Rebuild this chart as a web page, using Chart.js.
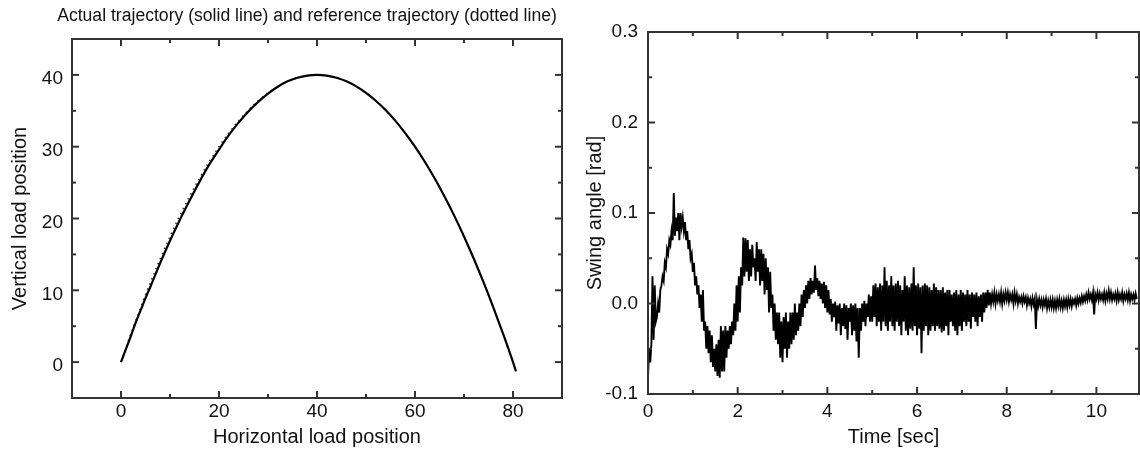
<!DOCTYPE html>
<html><head><meta charset="utf-8">
<script src="https://cdn.jsdelivr.net/npm/chart.js@4.4.1/dist/chart.umd.min.js"></script>
<style>
html,body{margin:0;padding:0;background:#fff;}
#wrap{position:relative;width:1140px;height:453px;overflow:hidden;background:#fff;}
canvas{position:absolute;top:0;}
#c1{left:0;} #c2{left:570px;}
</style></head><body>
<div id="wrap"><canvas id="c1" width="570" height="453"></canvas><canvas id="c2" width="570" height="453"></canvas></div>
<script>
// ---------- data ----------
const trajectoryTitle = "Actual trajectory (solid line) and reference trajectory (dotted line)";
const horizontalPosition = [0,1,2,3,4,5,6,8,10,12,14,16,18,20,22,24,26,28,30,32,34,36,38,40,42,44,46,48,50,52,54,56,58,60,62,64,66,68,70,72,74,76,78,80,80.6];
const actualVertical = [0,1.8,3.6,5.5,7.2,8.9,10.5,13.8,16.9,19.8,22.5,25.1,27.5,29.6,31.6,33.35,34.9,36.25,37.4,38.35,39.1,39.6,39.9,40.0,39.9,39.6,39.1,38.4,37.5,36.4,35.1,33.6,31.9,30.0,27.9,25.6,23.1,20.4,17.5,14.4,11.1,7.6,3.9,0.0,-1.3];
const referenceVertical = [0,2.0,3.9,5.8,7.6,9.4,11.1,14.4,17.5,20.4,23.1,25.6,27.9,30.0,31.9,33.6,35.1,36.4,37.5,38.4,39.1,39.6,39.9,40.0,39.9,39.6,39.1,38.4,37.5,36.4,35.1,33.6,31.9,30.0,27.9,25.6,23.1,20.4,17.5,14.4,11.1,7.6,3.9,0.0,-1.2];
const leftXTicks = [0,20,40,60,80];
const leftYTicks = [0,10,20,30,40];

const sampleStart = 0, sampleStep = 0.025; // seconds
const swingAngle = [
-0.082,-0.05,-0.065,-0.045, 0.03,-0.04,0.02,-0.02, -0.015,0.0,-0.01,0.015, 0.02,0.03,0.025,0.045,
0.04,0.06,0.055,0.07, 0.065,0.08,0.07,0.122, 0.075,0.095,0.08,0.1, 0.07,0.1,0.085,0.095,
0.08,0.09,0.07,0.08, 0.06,0.07,0.05,0.055, 0.035,0.045,0.02,0.03, 0.01,0.02,-0.005,0.01,
-0.02,0.015,-0.03,-0.02, -0.05,-0.025,-0.055,-0.03, -0.065,-0.035,-0.07,-0.05, -0.075,-0.045,-0.08,-0.04,
-0.082,-0.025,-0.075,-0.03, -0.075,-0.025,-0.06,-0.03, -0.05,-0.025,-0.045,-0.02, -0.035,0.0,-0.03,0.02,
-0.02,0.03,-0.01,0.04, 0.02,0.073,0.03,0.072, 0.035,0.07,0.025,0.06, 0.03,0.065,0.04,0.05,
0.025,0.068,0.035,0.06, 0.02,0.06,0.025,0.055, 0.01,0.05,0.015,0.04, -0.01,0.035,-0.005,0.01,
-0.03,0.0,-0.04,-0.01, -0.045,-0.01,-0.06,-0.02, -0.065,-0.015,-0.05,-0.01, -0.06,-0.02,-0.05,-0.01,
-0.045,-0.01,-0.04,0.0, -0.035,-0.01,-0.03,0.0, -0.025,0.01,-0.015,0.015, -0.005,0.02,0.0,0.025,
0.005,0.028,0.01,0.025, 0.012,0.042,0.015,0.028, 0.008,0.025,0.005,0.022, 0.0,0.024,-0.005,0.02,
-0.01,0.015,-0.012,0.005, -0.02,0.0,-0.015,0.002, -0.03,-0.002,-0.022,0.0, -0.035,-0.005,-0.025,0.0,
-0.028,-0.002,-0.04,-0.005, -0.02,0.0,-0.035,-0.002, -0.03,0.0,-0.042,-0.005, -0.06,-0.005,-0.03,0.0,
-0.02,0.003,-0.025,0.0, -0.015,0.01,-0.02,0.008, -0.02,0.02,-0.015,0.022, -0.025,0.018,-0.02,0.022,
-0.03,0.02,-0.02,0.04, -0.025,0.025,-0.03,0.02, -0.02,0.03,-0.025,0.02, -0.03,0.022,-0.02,0.025,
-0.025,0.02,-0.035,0.015, -0.02,0.03,-0.03,0.02, -0.035,0.018,-0.028,0.022, -0.03,0.04,-0.025,0.02,
-0.035,0.022,-0.028,0.018, -0.055,0.02,-0.03,0.022, -0.025,0.02,-0.035,0.018, -0.03,0.015,-0.025,0.022,
-0.03,0.018,-0.025,0.015, -0.028,0.015,-0.032,0.018, -0.03,0.012,-0.025,0.015, -0.035,0.015,-0.02,0.01,
-0.025,0.012,-0.03,0.015, -0.035,0.01,-0.025,0.015, -0.03,0.012,-0.02,0.01, -0.025,0.015,-0.02,0.01,
-0.028,0.012,-0.015,0.01, -0.02,0.012,-0.025,0.008, -0.015,0.01,-0.02,0.012, -0.01,0.012,-0.005,0.015,
-0.002,0.012,0.0,0.01, 0.002,0.012,0.0,0.01, 0.003,0.01,0.002,0.012, 0.0,0.01,0.003,0.012,
0.004,0.012,0.002,0.01, 0.004,0.01,0.0,0.012, 0.003,0.01,0.0,0.007, 0.002,0.007,0.0,0.008,
0.002,0.007,-0.002,0.006, 0.0,0.005,-0.003,0.006, -0.001,0.005,-0.028,0.004, -0.003,0.005,-0.002,0.004,
-0.004,0.004,-0.002,0.005, -0.005,0.003,-0.004,0.004, -0.004,0.004,-0.005,0.003, -0.005,0.004,-0.003,0.005,
-0.004,0.003,-0.005,0.004, -0.003,0.004,-0.004,0.005, -0.002,0.005,-0.003,0.004, 0.0,0.005,-0.002,0.006,
0.0,0.006,0.001,0.008, 0.002,0.008,0.003,0.01, 0.004,0.012,0.005,0.01, 0.004,0.012,-0.012,0.01,
0.005,0.012,0.004,0.011, 0.005,0.01,0.004,0.012, 0.003,0.011,0.005,0.014, 0.005,0.012,0.004,0.01,
0.005,0.011,0.003,0.012, 0.004,0.01,0.005,0.012, 0.003,0.01,0.005,0.011, 0.004,0.012,0.003,0.01,
0.005,0.01,0.004,0.011, 0.005
];
const rightXTicks = [0,2,4,6,8,10];
const rightYTicks = [-0.1,0.0,0.1,0.2,0.3];

// ---------- helpers ----------
const FONT = '"Liberation Sans", Arial, Helvetica, sans-serif';
const TXT = '#111';

const frameTicks = {
  id: 'frameTicks',
  afterDatasetsDraw(chart, args, o) {
    const {ctx, chartArea: a} = chart;
    const xs = chart.scales.x, ys = chart.scales.y;
    ctx.save();
    ctx.strokeStyle = o.color;
    ctx.lineWidth = o.tickWidth;
    const seg = (x1,y1,x2,y2) => { ctx.beginPath(); ctx.moveTo(x1,y1); ctx.lineTo(x2,y2); ctx.stroke(); };
    const walk = (scale, minor, major, fn) => {
      const k0 = Math.ceil(scale.min / minor - 1e-9);
      for (let k = k0; k * minor <= scale.max + 1e-9; k++) {
        const v = k * minor;
        const isMajor = Math.abs(v / major - Math.round(v / major)) < 1e-6;
        fn(scale.getPixelForValue(v), isMajor ? o.majorLen : o.minorLen);
      }
    };
    walk(xs, o.xMinor, o.xMajor, (p, L) => {
      if (p <= a.left + 1 || p >= a.right - 1) return;
      seg(p, a.bottom, p, a.bottom - L); seg(p, a.top, p, a.top + L);
    });
    walk(ys, o.yMinor, o.yMajor, (p, L) => {
      if (p <= a.top + 1 || p >= a.bottom - 1) return;
      seg(a.left, p, a.left + L, p); seg(a.right, p, a.right - L, p);
    });
    ctx.lineWidth = o.width;
    ctx.strokeRect(a.left, a.top, a.right - a.left, a.bottom - a.top);
    ctx.restore();
  }
};

const topTitle = {
  id: 'topTitle',
  afterDraw(chart, args, o) {
    if (!o.text) return;
    const {ctx, chartArea: a} = chart;
    ctx.save();
    ctx.font = o.size + 'px ' + FONT;
    ctx.fillStyle = TXT;
    ctx.textAlign = 'center';
    ctx.textBaseline = 'middle';
    ctx.fillText(o.text, (a.left + a.right) / 2 + o.dx, o.y);
    ctx.restore();
  }
};

function axis(opts) {
  return {
    type: 'linear',
    min: opts.min, max: opts.max,
    grid: { display: false, drawTicks: false, tickLength: 0 },
    border: { display: false },
    afterBuildTicks: s => { s.ticks = opts.ticks.map(v => ({ value: v })); },
    afterFit: s => { if (opts.w !== undefined) s.width = opts.w; if (opts.h !== undefined) s.height = opts.h; },
    ticks: {
      padding: opts.pad, labelOffset: opts.labelOffset || 0,
      color: TXT, font: { family: FONT, size: 19 },
      maxRotation: 0, autoSkip: false,
      callback: opts.fmt
    },
    title: {
      display: true, text: opts.title, color: TXT,
      font: { family: FONT, size: 20 }, padding: opts.titlePad
    }
  };
}

Chart.defaults.animation = false;

// ---------- left chart ----------
new Chart(document.getElementById('c1'), {
  type: 'line',
  data: {
    datasets: [
      {
        label: 'Actual',
        data: horizontalPosition.map((x, i) => ({ x, y: actualVertical[i] })),
        borderColor: '#000', borderWidth: 2.2, pointRadius: 0,
        cubicInterpolationMode: 'monotone', fill: false, order: 1
      },
      {
        label: 'Reference',
        data: horizontalPosition.map((x, i) => ({ x, y: referenceVertical[i] })),
        borderColor: '#333', borderWidth: 1.5, borderDash: [1.5, 4], pointRadius: 0,
        cubicInterpolationMode: 'monotone', fill: false, order: 2
      }
    ]
  },
  options: {
    responsive: false, devicePixelRatio: 1,
    layout: { padding: { top: 39, right: 8, left: 0, bottom: 0 } },
    plugins: {
      legend: { display: false }, tooltip: { enabled: false },
      frameTicks: { color: '#333', width: 2, tickWidth: 2, majorLen: 7, minorLen: 4, xMinor: 10, xMajor: 20, yMinor: 5, yMajor: 10 },
      topTitle: { text: trajectoryTitle, size: 17.6, y: 16, dx: -10 }
    },
    scales: {
      x: axis({ min: -10, max: 90, ticks: leftXTicks, h: 55, pad: 2, fmt: v => String(v),
                title: 'Horizontal load position', titlePad: { top: 0, bottom: 4 } }),
      y: axis({ min: -5, max: 45, ticks: leftYTicks, w: 72, pad: 9, labelOffset: 4, fmt: v => String(v),
                title: 'Vertical load position', titlePad: { top: 8, bottom: 0 } })
    }
  },
  plugins: [frameTicks, topTitle]
});

// ---------- right chart ----------
new Chart(document.getElementById('c2'), {
  type: 'line',
  data: {
    datasets: [{
      label: 'Swing angle',
      data: swingAngle.map((y, i) => ({ x: sampleStart + i * sampleStep, y })),
      borderColor: '#000', borderWidth: 1.9, pointRadius: 0, tension: 0, fill: false
    }]
  },
  options: {
    responsive: false, devicePixelRatio: 1,
    layout: { padding: { top: 32, right: 1, left: 0, bottom: 0 } },
    plugins: {
      legend: { display: false }, tooltip: { enabled: false },
      frameTicks: { color: '#333', width: 2, tickWidth: 2, majorLen: 7, minorLen: 4, xMinor: 1, xMajor: 2, yMinor: 0.05, yMajor: 0.1 },
      topTitle: { text: '' }
    },
    scales: {
      x: axis({ min: 0, max: 10.95, ticks: rightXTicks, h: 59, pad: 6, fmt: v => String(v),
                title: 'Time [sec]', titlePad: { top: 0, bottom: 4 } }),
      y: axis({ min: -0.1, max: 0.3, ticks: rightYTicks, w: 78, pad: 10, fmt: v => v.toFixed(1),
                title: 'Swing angle [rad]', titlePad: { top: 13, bottom: 0 } })
    }
  },
  plugins: [frameTicks, topTitle]
});
</script>
</body></html>
